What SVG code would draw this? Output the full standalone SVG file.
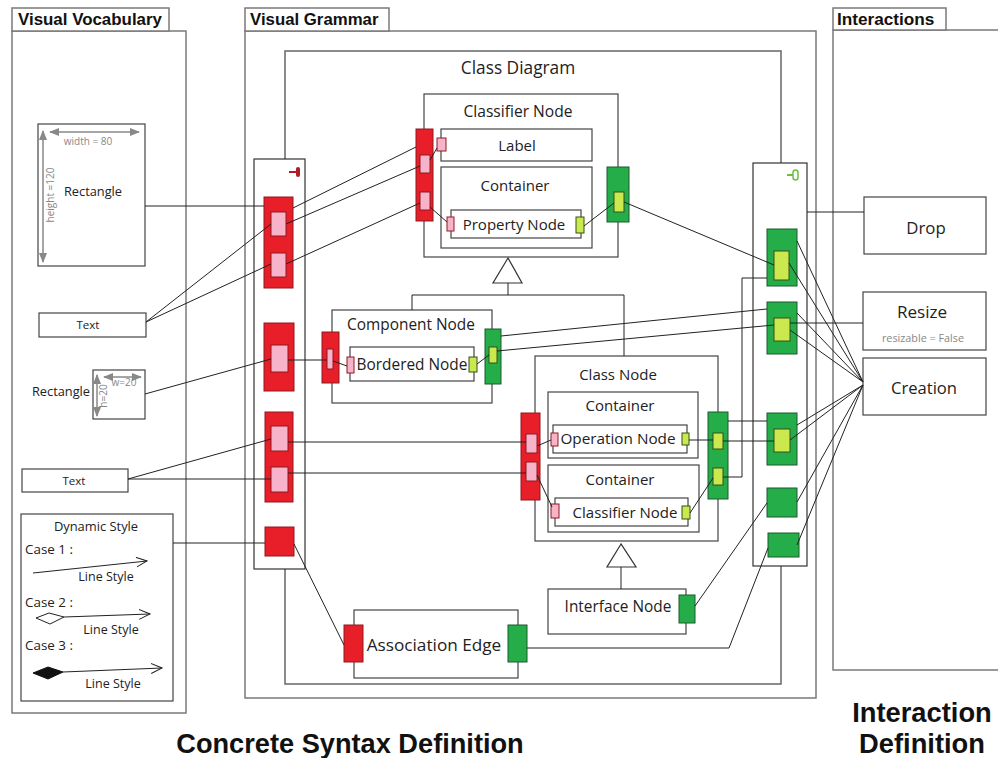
<svg xmlns="http://www.w3.org/2000/svg" width="998" height="758" viewBox="0 0 998 758">
<defs>
<style>
.panel{fill:#fff;stroke:#7a7a7a;stroke-width:1.5}
.frame{fill:none;stroke:#666;stroke-width:1.5}
.box{fill:#fff;stroke:#444;stroke-width:1.2}
.col{fill:#fff;stroke:#333;stroke-width:1.2}
.red{fill:#e81e28;stroke:#8e1a20;stroke-width:1}
.pink{fill:#f7b3ca;stroke:#8e1a20;stroke-width:1}
.green{fill:#25ad4a;stroke:#1d5a2c;stroke-width:1}
.lime{fill:#cbe94f;stroke:#355018;stroke-width:1}
.ln{stroke:#222;stroke-width:1;fill:none}
.gl{stroke:#888;stroke-width:1.5;fill:none}
.t{font-family:"Open Sans","Noto Sans",sans-serif;fill:#222;font-size:15px;text-anchor:middle}
.ts{font-family:"Open Sans","Noto Sans",sans-serif;fill:#222;font-size:13.4px}
.g{font-family:"Open Sans","Noto Sans",sans-serif;fill:#888;font-size:10px;text-anchor:middle}
.h{font-family:"Liberation Sans",Arial,sans-serif;font-weight:bold;fill:#111}
</style>
<marker id="ga" viewBox="0 0 10 10" refX="9" refY="5" markerWidth="7" markerHeight="7" orient="auto-start-reverse"><path d="M0,1 L10,5 L0,9 Z" fill="#888"/></marker>
<marker id="oa" viewBox="0 0 12 12" refX="11" refY="6" markerWidth="12" markerHeight="12" markerUnits="userSpaceOnUse" orient="auto"><path d="M0,1 L11,6 L0,11" fill="none" stroke="#222" stroke-width="1"/></marker>
</defs>
<rect width="998" height="758" fill="#fff"/>

<!-- panels -->
<g id="panel-vocabulary">
<rect class="panel" x="12" y="31" width="174" height="682"/>
<rect class="panel" x="12" y="8" width="157" height="23"/>
<text class="h" x="18" y="25" font-size="16.9">Visual Vocabulary</text>
</g>
<g id="panel-grammar">
<rect class="panel" x="245" y="31" width="571" height="667"/>
<rect class="panel" x="245" y="8" width="144" height="23"/>
<text class="h" x="250" y="25" font-size="16.8">Visual Grammar</text>
</g>
<g id="panel-interactions">
<rect class="panel" x="833" y="30" width="170" height="640"/>
<rect class="panel" x="833" y="8" width="113" height="22"/>
<text class="h" x="837" y="25" font-size="17.2">Interactions</text>
</g>

<g id="class-diagram">
<rect class="frame" x="285" y="51" width="496" height="633"/>
<text class="t" x="518" y="74" style="font-size:17.3px">Class Diagram</text>
</g>

<!-- vocabulary nodes -->
<g id="vocab-rectangle">
<rect class="box" x="38" y="124" width="107" height="142"/>
<line class="gl" x1="50" y1="132" x2="139" y2="132" marker-start="url(#ga)" marker-end="url(#ga)"/>
<text class="g" x="88" y="145">width = 80</text>
<line class="gl" x1="43" y1="131" x2="43" y2="262" marker-start="url(#ga)" marker-end="url(#ga)"/>
<text class="g" transform="translate(54,195) rotate(-90)">height =120</text>
<text class="t" x="93" y="196" style="font-size:12.8px">Rectangle</text>
</g>
<g id="vocab-text1">
<rect class="box" x="39" y="313" width="107" height="24"/>
<text class="t" x="88" y="329" style="font-size:11.5px">Text</text>
</g>
<g id="vocab-rectangle-small">
<rect class="box" x="93" y="370" width="52" height="49"/>
<line class="gl" x1="104" y1="377" x2="141" y2="377" marker-start="url(#ga)" marker-end="url(#ga)"/>
<text class="g" x="124" y="386">w=20</text>
<line class="gl" x1="97" y1="375" x2="97" y2="416" marker-start="url(#ga)" marker-end="url(#ga)"/>
<text class="g" transform="translate(107,396) rotate(-90)">h=20</text>
<text class="t" x="61" y="396" style="font-size:12.8px">Rectangle</text>
</g>
<g id="vocab-text2">
<rect class="box" x="22" y="469" width="106" height="23"/>
<text class="t" x="74" y="485" style="font-size:11.5px">Text</text>
</g>
<g id="vocab-dynamic-style">
<rect class="box" x="21" y="514" width="152" height="187"/>
<text class="t" x="96" y="531" style="font-size:12.9px">Dynamic Style</text>
<text class="ts" x="25" y="554">Case 1 :</text>
<line class="ln" x1="33" y1="573" x2="147" y2="561" marker-end="url(#oa)"/>
<text class="t" x="106" y="581" style="font-size:12.5px">Line Style</text>
<text class="ts" x="25" y="607">Case 2 :</text>
<polygon points="36,618 49,613 64,617 50,624" fill="#fff" stroke="#222" stroke-width="1"/>
<line class="ln" x1="64" y1="617" x2="150" y2="614" marker-end="url(#oa)"/>
<text class="t" x="111" y="634" style="font-size:12.5px">Line Style</text>
<text class="ts" x="25" y="650">Case 3 :</text>
<polygon points="33,673 48,667 63,672 48,679" fill="#111" stroke="#111" stroke-width="1"/>
<line class="ln" x1="63" y1="672" x2="162" y2="668" marker-end="url(#oa)"/>
<text class="t" x="113" y="688" style="font-size:12.5px">Line Style</text>
</g>

<!-- grammar columns -->
<g id="left-column">
<rect class="col" x="254" y="159" width="51" height="410"/>
<line x1="289" y1="172" x2="296" y2="172" stroke="#b01c22" stroke-width="2"/>
<rect x="296" y="167" width="4" height="10" rx="2" fill="#b01c22"/>
<rect class="red" x="264" y="197" width="29" height="91"/>
<rect class="pink" x="271" y="212" width="15" height="24"/>
<rect class="pink" x="271" y="253" width="15" height="24"/>
<rect class="red" x="264" y="323" width="30" height="68"/>
<rect class="pink" x="271" y="345" width="17" height="27"/>
<rect class="red" x="265" y="412" width="28" height="90"/>
<rect class="pink" x="271" y="426" width="17" height="25"/>
<rect class="pink" x="271" y="467" width="17" height="25"/>
<rect class="red" x="265" y="527" width="29" height="29"/>
</g>
<g id="right-column">
<rect class="col" x="753" y="163" width="54" height="403"/>
<line x1="787" y1="175" x2="793" y2="175" stroke="#6cc040" stroke-width="2"/>
<rect x="793" y="170" width="5" height="10" rx="2.5" fill="none" stroke="#6cc040" stroke-width="1.5"/>
<rect class="green" x="767" y="229" width="30" height="57"/>
<rect class="lime" x="774" y="251" width="15" height="29"/>
<rect class="green" x="767" y="302" width="30" height="52"/>
<rect class="lime" x="774" y="318" width="16" height="23"/>
<rect class="green" x="767" y="413" width="30" height="52"/>
<rect class="lime" x="774" y="429" width="16" height="23"/>
<rect class="green" x="767" y="488" width="30" height="29"/>
<rect class="green" x="768" y="533" width="31" height="24"/>
</g>

<!-- classifier node -->
<g id="classifier-node">
<rect class="box" x="424" y="94" width="194" height="163"/>
<text class="t" x="518" y="117" style="font-size:15.6px">Classifier Node</text>
<rect class="box" x="441" y="129" width="151" height="32"/>
<text class="t" x="517" y="151">Label</text>
<rect class="box" x="441" y="167" width="151" height="81"/>
<text class="t" x="515" y="191">Container</text>
<rect class="box" x="451" y="210" width="130" height="28"/>
<text class="t" x="514" y="230">Property Node</text>
<rect class="pink" x="447" y="217" width="7" height="14"/>
<rect class="lime" x="576" y="217" width="8" height="16"/>
<rect class="pink" x="437" y="138" width="9" height="13"/>
<rect class="red" x="416" y="129" width="17" height="92"/>
<rect class="pink" x="420" y="155" width="10" height="18"/>
<rect class="pink" x="420" y="192" width="10" height="18"/>
<rect class="green" x="607" y="167" width="22" height="55"/>
<rect class="lime" x="614" y="192" width="10" height="20"/>
</g>

<!-- component node -->
<g id="component-node">
<rect class="box" x="332" y="310" width="160" height="93"/>
<text class="t" x="411" y="330" style="font-size:15.4px">Component Node</text>
<rect class="box" x="350" y="347" width="124" height="34"/>
<text class="t" x="412" y="370" style="font-size:15.4px">Bordered Node</text>
<rect class="pink" x="347" y="357" width="7" height="16"/>
<rect class="lime" x="469" y="357" width="8" height="15"/>
<rect class="red" x="322" y="332" width="17" height="51"/>
<rect class="pink" x="327" y="349" width="6" height="20"/>
<rect class="green" x="485" y="329" width="16" height="55"/>
<rect class="lime" x="489" y="347" width="8" height="16"/>
</g>

<!-- class node -->
<g id="class-node">
<rect class="box" x="535" y="356" width="183" height="185"/>
<text class="t" x="618" y="380">Class Node</text>
<rect class="box" x="548" y="392" width="150" height="66"/>
<text class="t" x="620" y="411">Container</text>
<rect class="box" x="553" y="425" width="134" height="28"/>
<text class="t" x="618" y="444" style="font-size:15.3px">Operation Node</text>
<rect class="pink" x="551" y="433" width="7" height="13"/>
<rect class="lime" x="682" y="433" width="7" height="12"/>
<rect class="box" x="548" y="465" width="151" height="67"/>
<text class="t" x="620" y="485">Container</text>
<rect class="box" x="555" y="498" width="133" height="28"/>
<text class="t" x="625" y="518">Classifier Node</text>
<rect class="pink" x="551" y="504" width="8" height="14"/>
<rect class="lime" x="682" y="506" width="8" height="13"/>
<rect class="red" x="521" y="413" width="19" height="87"/>
<rect class="pink" x="526" y="434" width="11" height="19"/>
<rect class="pink" x="526" y="462" width="11" height="19"/>
<rect class="green" x="708" y="412" width="20" height="87"/>
<rect class="lime" x="713" y="433" width="10" height="16"/>
<rect class="lime" x="713" y="468" width="10" height="17"/>
</g>

<!-- interface node -->
<g id="interface-node">
<rect class="box" x="548" y="589" width="138" height="45"/>
<text class="t" x="618" y="612" style="font-size:15.4px">Interface Node</text>
<rect class="green" x="679" y="595" width="16" height="28"/>
</g>

<!-- association edge -->
<g id="association-edge">
<rect class="box" x="354" y="610" width="164" height="68"/>
<text class="t" x="434" y="651" style="font-size:17.2px">Association Edge</text>
<rect class="red" x="344" y="625" width="19" height="37"/>
<rect class="green" x="508" y="625" width="19" height="37"/>
</g>

<!-- interactions -->
<g id="drop">
<rect class="box" x="864" y="197" width="122" height="57"/>
<text class="t" x="926" y="234" style="font-size:16.8px">Drop</text>
</g>
<g id="resize">
<rect class="box" x="863" y="292" width="123" height="58"/>
<text class="t" x="922" y="318" style="font-size:17.1px">Resize</text>
<text class="g" x="923" y="342" style="font-size:10.8px">resizable = False</text>
</g>
<g id="creation">
<rect class="box" x="863" y="358" width="123" height="57"/>
<text class="t" x="924" y="394" style="font-size:16.6px">Creation</text>
</g>

<!-- connectors -->
<g id="connectors">
<!-- inheritance -->
<polygon points="508,258 493,283 522,283" fill="#fff" stroke="#333" stroke-width="1.2"/>
<polyline class="ln" points="508,283 508,295"/>
<polyline class="ln" points="412,310 412,295 624,295 624,356" stroke="#444" stroke-width="1.2"/>
<polygon points="621,544 607,567 636,567" fill="#fff" stroke="#333" stroke-width="1.2"/>
<polyline class="ln" points="621,567 621,589"/>
<!-- vocabulary to grammar -->
<line class="ln" x1="145" y1="206" x2="264" y2="206"/>
<line class="ln" x1="146" y1="322" x2="271" y2="224"/>
<line class="ln" x1="146" y1="322" x2="271" y2="264"/>
<line class="ln" x1="145" y1="394" x2="271" y2="359"/>
<line class="ln" x1="128" y1="479" x2="271" y2="439"/>
<line class="ln" x1="128" y1="479" x2="271" y2="479"/>
<line class="ln" x1="173" y1="543" x2="265" y2="543"/>
<!-- left column to nodes -->
<line class="ln" x1="293" y1="208" x2="416" y2="147"/>
<line class="ln" x1="286" y1="224" x2="420" y2="166"/>
<line class="ln" x1="286" y1="264" x2="420" y2="203"/>
<line class="ln" x1="430" y1="160" x2="437" y2="148"/>
<line class="ln" x1="430" y1="207" x2="447" y2="222"/>
<line class="ln" x1="584" y1="226" x2="614" y2="203"/>
<line class="ln" x1="288" y1="360" x2="327" y2="360"/>
<line class="ln" x1="333" y1="361" x2="347" y2="366"/>
<line class="ln" x1="477" y1="364" x2="489" y2="355"/>
<line class="ln" x1="288" y1="442" x2="526" y2="442"/>
<line class="ln" x1="288" y1="473" x2="526" y2="473"/>
<line class="ln" x1="537" y1="446" x2="551" y2="440"/>
<line class="ln" x1="537" y1="475" x2="552" y2="507"/>
<line class="ln" x1="689" y1="440" x2="713" y2="440"/>
<line class="ln" x1="690" y1="513" x2="713" y2="478"/>
<line class="ln" x1="294" y1="544" x2="344" y2="645"/>
<!-- nodes to right column -->
<line class="ln" x1="624" y1="202" x2="774" y2="265"/>
<line class="ln" x1="501" y1="336" x2="767" y2="309"/>
<line class="ln" x1="497" y1="351" x2="774" y2="325"/>
<line class="ln" x1="728" y1="421" x2="767" y2="421"/>
<line class="ln" x1="723" y1="441" x2="774" y2="441"/>
<polyline class="ln" points="723,477 742,477 742,278 767,278"/>
<line class="ln" x1="695" y1="606" x2="767" y2="503"/>
<polyline class="ln" points="527,648 729,648 768,548"/>
<!-- right column to interactions -->
<line class="ln" x1="807" y1="212" x2="864" y2="212"/>
<line class="ln" x1="790" y1="323" x2="863" y2="323"/>
<line class="ln" x1="797" y1="241" x2="863" y2="382"/>
<line class="ln" x1="789" y1="263" x2="863" y2="382"/>
<line class="ln" x1="797" y1="313" x2="863" y2="382"/>
<line class="ln" x1="790" y1="330" x2="863" y2="382"/>
<line class="ln" x1="797" y1="425" x2="863" y2="385"/>
<line class="ln" x1="790" y1="440" x2="863" y2="385"/>
<line class="ln" x1="797" y1="502" x2="863" y2="385"/>
<line class="ln" x1="797" y1="545" x2="863" y2="385"/>
</g>

<!-- footer titles -->
<text class="h" x="350" y="753" font-size="27.2" text-anchor="middle">Concrete Syntax Definition</text>
<text class="h" x="922" y="722" font-size="27.3" text-anchor="middle">Interaction</text>
<text class="h" x="922" y="753" font-size="27.3" text-anchor="middle">Definition</text>
</svg>
